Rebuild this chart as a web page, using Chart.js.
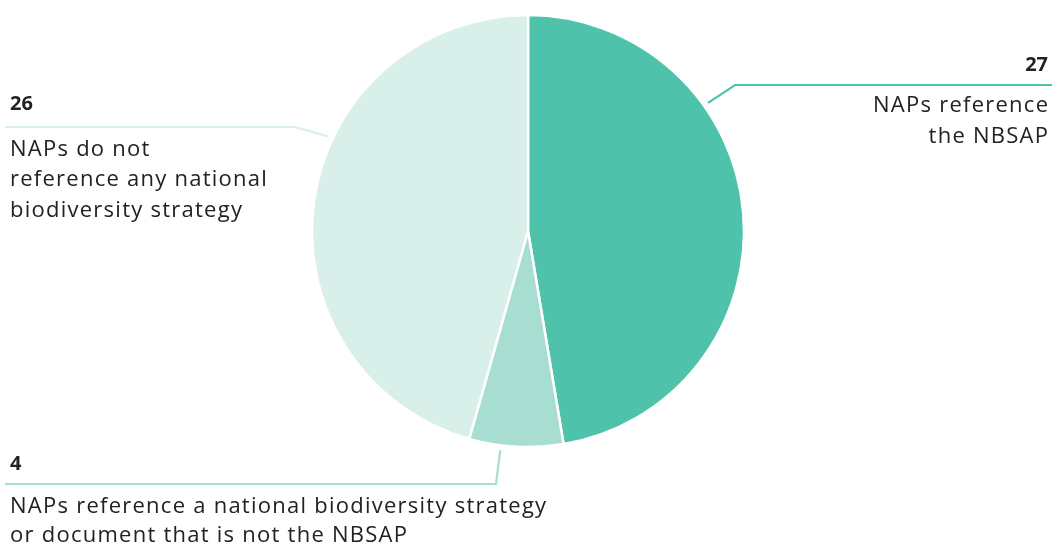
<!DOCTYPE html>
<html>
<head>
<meta charset="utf-8">
<script src="https://cdn.jsdelivr.net/npm/chart.js@4/dist/chart.umd.min.js"></script>
<style>
  html, body { margin: 0; padding: 0; background: #fff; }
  #wrap { width: 1052px; height: 544px; position: relative; }
</style>
</head>
<body>
<div id="wrap"><canvas id="chart" width="1052" height="544"></canvas></div>
<script>
// NAPs and how they reference national biodiversity strategies
const categories = [
  'NAPs reference the NBSAP',
  'NAPs reference a national biodiversity strategy or document that is not the NBSAP',
  'NAPs do not reference any national biodiversity strategy'
];
const values = [27, 4, 26];
const sliceColors = ['#4fc2ab', '#a8ddd1', '#d9efea'];
const labelLines = [
  ['NAPs reference', 'the NBSAP'],
  ['NAPs reference a national biodiversity strategy', 'or document that is not the NBSAP'],
  ['NAPs do not', 'reference any national', 'biodiversity strategy']
];

// Callout layout for each slice: where on the slice the leader starts,
// its elbow, where the horizontal rule ends, and text placement.
const callouts = [
  { frac: 0.32, elbow: [735, 85], end: 1052, align: 'right', x: 1048, numY: 65, textY: [106, 137] },
  { frac: 0.66, elbow: [496, 484], end: 5, align: 'left', x: 10, numY: 464, textY: [507, 536] },
  { frac: 0.606, elbow: [295, 127], end: 5, align: 'left', x: 10, numY: 104, textY: [150, 180, 211] }
];

const FONT = '"Open Sans", "Lato", sans-serif';
const SPACING = 1.25;

const calloutPlugin = {
  id: 'callouts',
  afterDatasetsDraw(chart) {
    const ctx = chart.ctx;
    const meta = chart.getDatasetMeta(0);
    meta.data.forEach((arc, i) => {
      const c = callouts[i];
      const p = arc.getProps(['x', 'y', 'startAngle', 'endAngle', 'outerRadius'], true);
      const a = p.startAngle + (p.endAngle - p.startAngle) * c.frac;
      const r = p.outerRadius + 5;
      const ax = p.x + Math.cos(a) * r;
      const ay = p.y + Math.sin(a) * r;
      ctx.save();
      ctx.strokeStyle = sliceColors[i];
      ctx.lineWidth = 2.2;
      ctx.beginPath();
      ctx.moveTo(ax, ay);
      ctx.lineTo(c.elbow[0], c.elbow[1]);
      ctx.lineTo(c.end, c.elbow[1]);
      ctx.stroke();

      ctx.fillStyle = '#222222';
      ctx.textAlign = c.align;
      ctx.textBaseline = 'middle';
      ctx.letterSpacing = '0px';
      ctx.font = 'bold 20px ' + FONT;
      ctx.fillText(String(values[i]), c.x, c.numY);
      ctx.font = '22px ' + FONT;
      ctx.letterSpacing = SPACING + 'px';
      labelLines[i].forEach((line, k) => {
        ctx.fillText(line, c.x + (c.align === 'right' ? SPACING : 0), c.textY[k]);
      });
      ctx.restore();
    });
  }
};

new Chart(document.getElementById('chart'), {
  type: 'pie',
  data: {
    labels: categories,
    datasets: [{
      data: values,
      backgroundColor: sliceColors,
      borderColor: '#ffffff',
      borderWidth: 2.5,
      hoverOffset: 0
    }]
  },
  options: {
    responsive: false,
    animation: false,
    radius: 216,
    layout: { padding: { left: 4, right: 0, top: 16, bottom: 98 } },
    plugins: {
      legend: { display: false },
      tooltip: { enabled: false }
    }
  },
  plugins: [calloutPlugin]
});
</script>
</body>
</html>
